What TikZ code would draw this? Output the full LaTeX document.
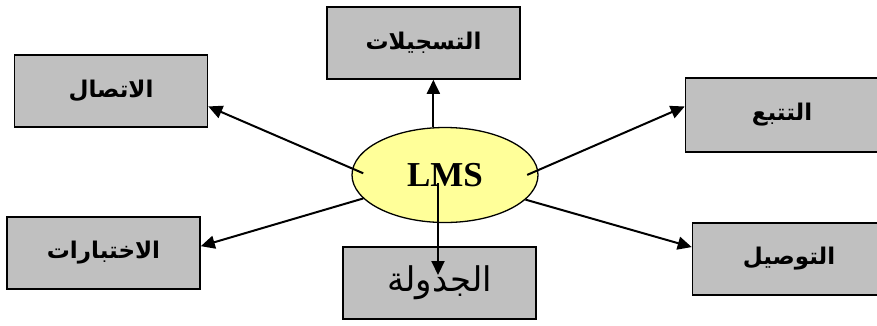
\documentclass[tikz,border=0pt]{standalone}
\usepackage{fontspec}
\usetikzlibrary{arrows.meta,shapes.geometric}
\TeXXeTstate=1
\newfontfamily\arabicfont[Script=Arabic]{DejaVu Sans}
\newfontfamily\lmsfont{Liberation Serif}
\definecolor{boxgray}{RGB}{192,192,192}
\definecolor{hubyellow}{RGB}{255,255,153}
\tikzset{x=1pt, y=-1pt,
    box/.style={draw, fill=boxgray, line width=1.6pt,
        minimum width=193pt, minimum height=72pt,
        font=\arabicfont\bfseries\fontsize{23}{26}\selectfont},
    hub/.style={draw, ellipse, fill=hubyellow, line width=1.3pt,
        minimum width=186pt, minimum height=95pt, inner sep=0pt,
        font=\lmsfont\bfseries\fontsize{35}{40}\selectfont},
    arr/.style={line width=2pt, -{Triangle[length=14pt,width=13pt]}},
    }

\begin{document}
\begin{tikzpicture}
\useasboundingbox (0,0) rectangle (877,325);
% centre
\node[hub] (lms) at (445,175) {LMS};
% boxes round it
\node[box] (ittisal) at (111,91) {\beginR الاتصال\endR};
\node[box] (tasjilat) at (423.5,43) {\beginR التسجيلات\endR};
\node[box, minimum height=74pt] (tatabbu) at (782,115) {\beginR التتبع\endR};
\node[box] (ikhtibarat) at (103.5,253) {\beginR الاختبارات\endR};
\node[box, font=\arabicfont\fontsize{34}{38}\selectfont] (jadwala) at (439.5,283) {\beginR الجدولة\endR};
\node[box] (tawsil) at (789,259) {\beginR التوصيل\endR};
% arrows
\draw[arr, shorten <=-12pt] (lms.176) -- (ittisal.-9);
\draw[arr] (lms.north -| tasjilat.-75) -- (tasjilat.-75);
\draw[arr, shorten <=-12pt] (lms.3) -- (tatabbu.175);
\draw[arr] (lms.196) -- (ikhtibarat.4);
\draw[arr] (lms.-17) -- (tawsil.173);
\draw[arr] ([xshift=-7pt,yshift=-8pt]lms.center) -- ([xshift=-1.5pt,yshift=8pt]jadwala.center);
\end{tikzpicture}
\end{document}
